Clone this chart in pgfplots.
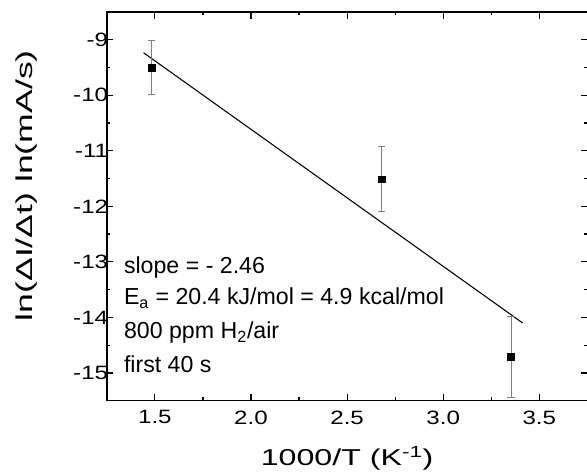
\documentclass[border=0pt]{standalone}
\usepackage{fontspec}
\setmainfont{Liberation Sans}
\newfontfamily\tickfont{Liberation Sans}[FakeStretch=1.25]
\newfontfamily\xlabfont{Liberation Sans}[FakeStretch=1.4]
\newfontfamily\ylabfont{Liberation Sans}[FakeStretch=1.55]
\usepackage{pgfplots}
\usepackage{pgfplotstable}
\pgfplotsset{compat=1.18}

% ln(dI/dt) vs 1000/T, error = half bar length
\pgfplotstableread{
x      y       err
1.484  -9.50   0.48
2.680  -11.51  0.58
3.353  -14.71  0.73
}\arrdata

% linear fit as drawn
\pgfplotstableread{
x      y
1.441  -9.234
3.413  -14.10
}\fitdata

\begin{document}
\begin{tikzpicture}
\begin{axis}[
    name=ax,
    scale only axis,
    width=361pt, height=292pt,
    clip=false,
    axis lines=box,
    xtick pos=both, ytick pos=both,
    xmin=1.25, xmax=3.75,
    ymin=-15.5, ymax=-8.5,
    xtick={1.5,2.0,2.5,3.0,3.5},
    ytick={-15,-14,-13,-12,-11,-10,-9},
    minor tick num=1,
    tick align=inside,
    major tick length=5pt,
    minor tick length=2.5pt,
    axis line style={black, line width=1.1pt},
    every tick/.style={black, line width=0.9pt},
    /pgf/number format/assume math mode=true,
    xticklabel style={/pgf/number format/fixed, /pgf/number format/fixed zerofill,
        /pgf/number format/precision=1, yshift=-4pt},
    yticklabel style={xshift=4.5pt},
    tick label style={font=\fontsize{14.5}{17}\selectfont\tickfont},
    xlabel={1000/T (K\textsuperscript{-1})},
    ylabel={ln(ΔI/Δt) ln(mA/s)},
    xlabel style={font=\fontsize{17.25}{20}\selectfont\xlabfont,
        at={(axis description cs:0.5,-0.168)}, anchor=base},
    ylabel style={font=\fontsize{17.25}{20}\selectfont\ylabfont,
        at={(axis description cs:-0.154,0.553)}, anchor=base},
]
\addplot[black, line width=0.8pt] table[x=x, y=y] {\fitdata};
\addplot[only marks, mark=square*, mark size=2.5pt, black,
    error bars/.cd, y dir=both, y explicit,
    error bar style={gray, line width=0.8pt},
    error mark options={rotate=90, mark size=2.75pt, gray, line width=0.8pt}]
    table[x=x, y=y, y error=err] {\arrdata};

\begin{scope}[every node/.style={anchor=base west, inner sep=0pt, font=\fontsize{17.4}{20}\selectfont}]
\node at (axis cs:1.338,-13.216) {slope = - 2.46};
\node at (axis cs:1.338,-13.775) {E\textsubscript{a} = 20.4 kJ/mol = 4.9 kcal/mol};
\node at (axis cs:1.338,-14.387) {800 ppm H\textsubscript{2}/air};
\node at (axis cs:1.338,-15.0) {first 40 s};
\end{scope}
% top and right side of the frame
\draw[black, line width=1.1pt] (rel axis cs:0,1) -- (rel axis cs:1,1) -- (rel axis cs:1,0);
\end{axis}
\pgfresetboundingbox
\path ([xshift=-80.25pt,yshift=-55.5pt]ax.south west) rectangle ([xshift=-0.3pt,yshift=9pt]ax.north east);
\end{tikzpicture}
\end{document}
